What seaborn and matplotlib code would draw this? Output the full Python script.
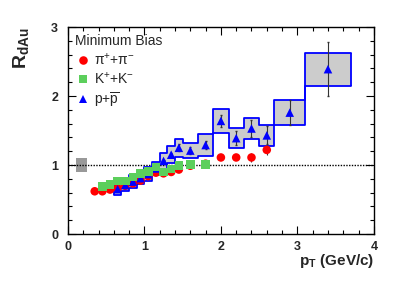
import numpy as np
import pandas as pd
import matplotlib
matplotlib.use("Agg")
import matplotlib.pyplot as plt
import seaborn as sns

# datos (R_dAu vs pT, Minimum Bias)
pi_pt = [0.35, 0.45, 0.55, 0.65, 0.75, 0.85, 0.95, 1.05, 1.15, 1.25, 1.35, 1.45, 1.6, 1.8, 2.0, 2.2, 2.4, 2.6]
pi_r = [0.62, 0.62, 0.645, 0.665, 0.70, 0.735, 0.775, 0.84, 0.89, 0.88, 0.90, 0.935, 0.99, 1.02, 1.11, 1.11, 1.11, 1.22]
pi_err = [0.01, 0.01, 0.01, 0.01, 0.01, 0.01, 0.01, 0.01, 0.01, 0.01, 0.01, 0.02, 0.02, 0.02, 0.03, 0.03, 0.06, 0.07]

k_pt = [0.45, 0.55, 0.65, 0.75, 0.85, 0.95, 1.05, 1.15, 1.25, 1.35, 1.45, 1.6, 1.8]
k_r = [0.69, 0.72, 0.77, 0.77, 0.83, 0.88, 0.91, 0.97, 0.90, 0.94, 0.99, 1.01, 1.01]

p_pt = [0.65, 0.75, 0.85, 0.95, 1.05, 1.15, 1.25, 1.35, 1.45, 1.6, 1.8, 2.0, 2.2, 2.4, 2.6, 2.9, 3.4]
p_r = [0.65, 0.71, 0.76, 0.81, 0.87, 0.95, 1.06, 1.15, 1.25, 1.21, 1.29, 1.64, 1.39, 1.53, 1.43, 1.76, 2.39]
p_err = [0.01, 0.01, 0.01, 0.01, 0.01, 0.02, 0.02, 0.03, 0.05, 0.05, 0.06, 0.09, 0.10, 0.13, 0.13, 0.18, 0.39]
p_sys = [0.08, 0.08, 0.09, 0.09, 0.10, 0.10, 0.11, 0.12, 0.13, 0.11, 0.16, 0.17, 0.14, 0.15, 0.15, 0.18, 0.24]
p_edges = [0.6, 0.7, 0.8, 0.9, 1.0, 1.1, 1.2, 1.3, 1.4, 1.5, 1.7, 1.9, 2.1, 2.3, 2.5, 2.7, 3.1, 3.7]

norm_x = [0.10, 0.25]
norm_lo = 0.9
norm_hi = 1.1

etiquetas = ["π$^{+}$+π$^{-}$", "K$^{+}$+K$^{-}$", r"p+$\overline{\rm p}$"]
colores = {etiquetas[0]: "#ff0000", etiquetas[1]: "#5ccf5c", etiquetas[2]: "#0000ff"}
marcadores = {etiquetas[0]: "o", etiquetas[1]: "s", etiquetas[2]: "^"}

# orden de dibujo: piones, protones, kaones
df = pd.concat([
    pd.DataFrame({"pT": pi_pt, "R": pi_r, "part": etiquetas[0]}),
    pd.DataFrame({"pT": p_pt, "R": p_r, "part": etiquetas[2]}),
    pd.DataFrame({"pT": k_pt, "R": k_r, "part": etiquetas[1]}),
], ignore_index=True)

sns.set_style("ticks")
plt.rcParams["font.family"] = ["Liberation Sans", "DejaVu Sans"]
plt.rcParams["mathtext.fontset"] = "custom"
plt.rcParams["mathtext.rm"] = "Liberation Sans"
plt.rcParams["mathtext.it"] = "Liberation Sans:italic"
plt.rcParams["mathtext.bf"] = "Liberation Sans:bold"

fig = plt.figure(figsize=(4.02, 2.82), dpi=100)
ax = fig.add_axes([0.169, 0.170, 0.761, 0.734])

# banda sistematica de protones (cajas)
lo = np.array(p_r) - np.array(p_sys)
hi = np.array(p_r) + np.array(p_sys)
lo_ext = np.append(lo, lo[-1])
hi_ext = np.append(hi, hi[-1])
ax.fill_between(p_edges, lo_ext, hi_ext, step="post", color="#cccccc", lw=0, zorder=1)
ax.step(p_edges, hi_ext, where="post", color="#0000ff", lw=1.3, zorder=2)
ax.step(p_edges, lo_ext, where="post", color="#0000ff", lw=1.3, zorder=2)
ax.vlines([p_edges[0], p_edges[-1]], [lo[0], lo[-1]], [hi[0], hi[-1]], color="#0000ff", lw=1.3, zorder=2)

# caja de normalizacion
ax.fill_between(norm_x, norm_lo, norm_hi, color="#999999", lw=0, zorder=1)
ax.axhline(1, color="black", lw=1, ls=(0, (1, 1)), zorder=1.5)

ax.errorbar(pi_pt, pi_r, yerr=pi_err, fmt="none", ecolor="#333333", elinewidth=0.8, capsize=0, zorder=3)
ax.errorbar(p_pt, p_r, yerr=p_err, fmt="none", ecolor="#333333", elinewidth=0.8, capsize=1, zorder=3)

sns.scatterplot(data=df, x="pT", y="R", hue="part", style="part", hue_order=etiquetas,
                style_order=etiquetas, palette=colores, markers=marcadores, s=38,
                edgecolor="none", linewidth=0, ax=ax, zorder=4)

ax.set_xlim(0, 4)
ax.set_ylim(0, 3)
ax.set_xticks([0, 1, 2, 3, 4])
ax.set_yticks([0, 1, 2, 3])
ax.set_xticks(np.arange(0, 4.01, 0.2), minor=True)
ax.set_yticks(np.arange(0, 3.01, 0.2), minor=True)
ax.tick_params(which="both", direction="in", top=True, right=True, color="black", width=0.8)
ax.tick_params(which="major", length=6, labelsize=9)
ax.tick_params(which="minor", length=3)
ax.tick_params(axis="x", pad=5)
ax.tick_params(axis="y", pad=7)
for lab in ax.get_xticklabels() + ax.get_yticklabels():
    lab.set_fontweight("bold")
for sp in ax.spines.values():
    sp.set_visible(True)
    sp.set_color("black")
    sp.set_linewidth(1)

ax.set_xlabel(r"$\mathbf{p_{T}}$ (GeV/c)", fontsize=11, fontweight="bold", loc="right")
ax.xaxis.set_label_coords(1.0, -0.085)
ax.set_ylabel(r"$\mathbf{R_{dAu}}$", fontsize=14, loc="top")
ax.yaxis.set_label_coords(-0.12, 1.0)

leg = ax.legend(title="Minimum Bias", loc="upper left", frameon=False, fontsize=10,
                title_fontsize=10, handlelength=1.2, handletextpad=0.15,
                labelspacing=0.25, borderpad=0.2, borderaxespad=0.3, alignment="left")

fig.savefig("out.png", dpi=100)
